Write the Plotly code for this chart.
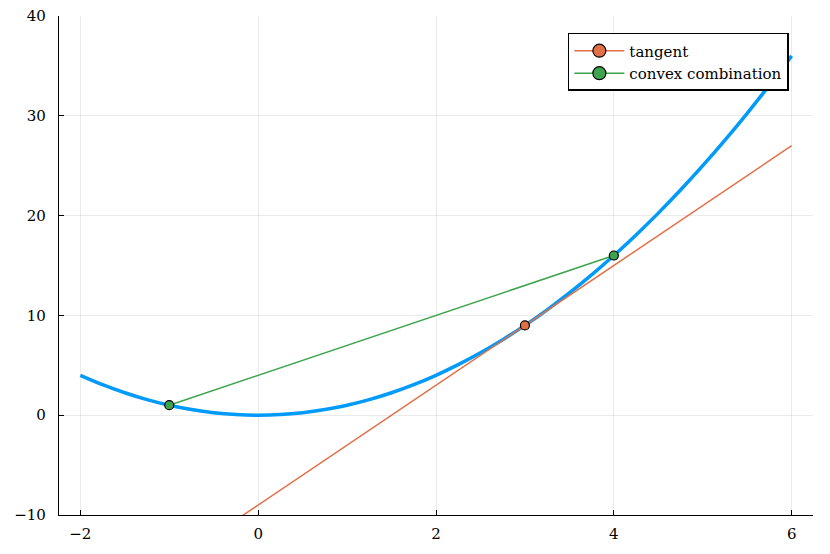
import plotly.graph_objects as go

# parabola samples (y = x^2)
curve_x = [-2.0, -1.75, -1.5, -1.25, -1.0, -0.75, -0.5, -0.25, 0.0, 0.25, 0.5, 0.75, 1.0, 1.25, 1.5, 1.75,
           2.0, 2.25, 2.5, 2.75, 3.0, 3.25, 3.5, 3.75, 4.0, 4.25, 4.5, 4.75, 5.0, 5.25, 5.5, 5.75, 6.0]
curve_y = [4.0, 3.0625, 2.25, 1.5625, 1.0, 0.5625, 0.25, 0.0625, 0.0, 0.0625, 0.25, 0.5625, 1.0, 1.5625, 2.25, 3.0625,
           4.0, 5.0625, 6.25, 7.5625, 9.0, 10.5625, 12.25, 14.0625, 16.0, 18.0625, 20.25, 22.5625, 25.0, 27.5625, 30.25, 33.0625, 36.0]

tangent_x = [-2, 6]
tangent_y = [-21, 27]
tangent_pt_x = [3]
tangent_pt_y = [9]

convex_x = [-1, 4]
convex_y = [1, 16]

x_ticks = [-2, 0, 2, 4, 6]
x_ticktext = ["\u22122", "0", "2", "4", "6"]
y_ticks = [-10, 0, 10, 20, 30, 40]
y_ticktext = ["\u221210", "0", "10", "20", "30", "40"]

BLUE = "#009AFA"
ORANGE = "#E26F46"
GREEN = "#3DA44D"
FONT = "DejaVu Serif"

fig = go.Figure()
fig.add_trace(go.Scatter(x=curve_x, y=curve_y, mode="lines", line=dict(color=BLUE, width=3.5, shape="spline"),
                         showlegend=False, hoverinfo="skip"))
fig.add_trace(go.Scatter(x=tangent_x, y=tangent_y, mode="lines", line=dict(color=ORANGE, width=1.5),
                         showlegend=False))
fig.add_trace(go.Scatter(x=convex_x, y=convex_y, mode="lines", line=dict(color=GREEN, width=1.5),
                         showlegend=False))
fig.add_trace(go.Scatter(x=tangent_pt_x, y=tangent_pt_y, mode="markers",
                         marker=dict(color=ORANGE, size=9, line=dict(color="black", width=1.2)),
                         showlegend=False))
fig.add_trace(go.Scatter(x=[convex_x[0], convex_x[1]], y=[convex_y[0], convex_y[1]], mode="markers",
                         marker=dict(color=GREEN, size=9, line=dict(color="black", width=1.2)),
                         showlegend=False))
# legend entries
fig.add_trace(go.Scatter(x=[None], y=[None], mode="lines+markers", name="tangent",
                         line=dict(color=ORANGE, width=1.5),
                         marker=dict(color=ORANGE, size=13, line=dict(color="black", width=1.2))))
fig.add_trace(go.Scatter(x=[None], y=[None], mode="lines+markers", name="convex combination",
                         line=dict(color=GREEN, width=1.5),
                         marker=dict(color=GREEN, size=13, line=dict(color="black", width=1.2))))

axis_common = dict(showline=True, linecolor="black", linewidth=1.2, mirror=False,
                   ticks="inside", ticklen=5, tickcolor="black", tickwidth=1,
                   showgrid=True, gridcolor="rgba(0,0,0,0.08)", gridwidth=1,
                   zeroline=False, automargin=False,
                   tickfont=dict(family=FONT, size=15, color="black"))

fig.update_layout(
    width=830, height=554,
    paper_bgcolor="white", plot_bgcolor="white",
    margin=dict(l=59, r=17, t=16, b=39),
    font=dict(family=FONT, color="black"),
    xaxis=dict(range=[-2.24, 6.24], tickvals=x_ticks, ticktext=x_ticktext,
               ticklabelstandoff=5, **axis_common),
    yaxis=dict(range=[-10, 40], tickvals=y_ticks, ticktext=y_ticktext,
               ticklabelstandoff=9, **axis_common),
    legend=dict(x=0.968, y=0.966, xanchor="right", yanchor="top",
                bordercolor="black", borderwidth=1.5, bgcolor="white",
                font=dict(family=FONT, size=15, color="black"),
                tracegroupgap=0, itemwidth=50),
    showlegend=True,
)

fig.write_html("out.html", config={"displayModeBar": False},
               post_script="document.body.style.margin='0';document.body.style.overflow='hidden';")
